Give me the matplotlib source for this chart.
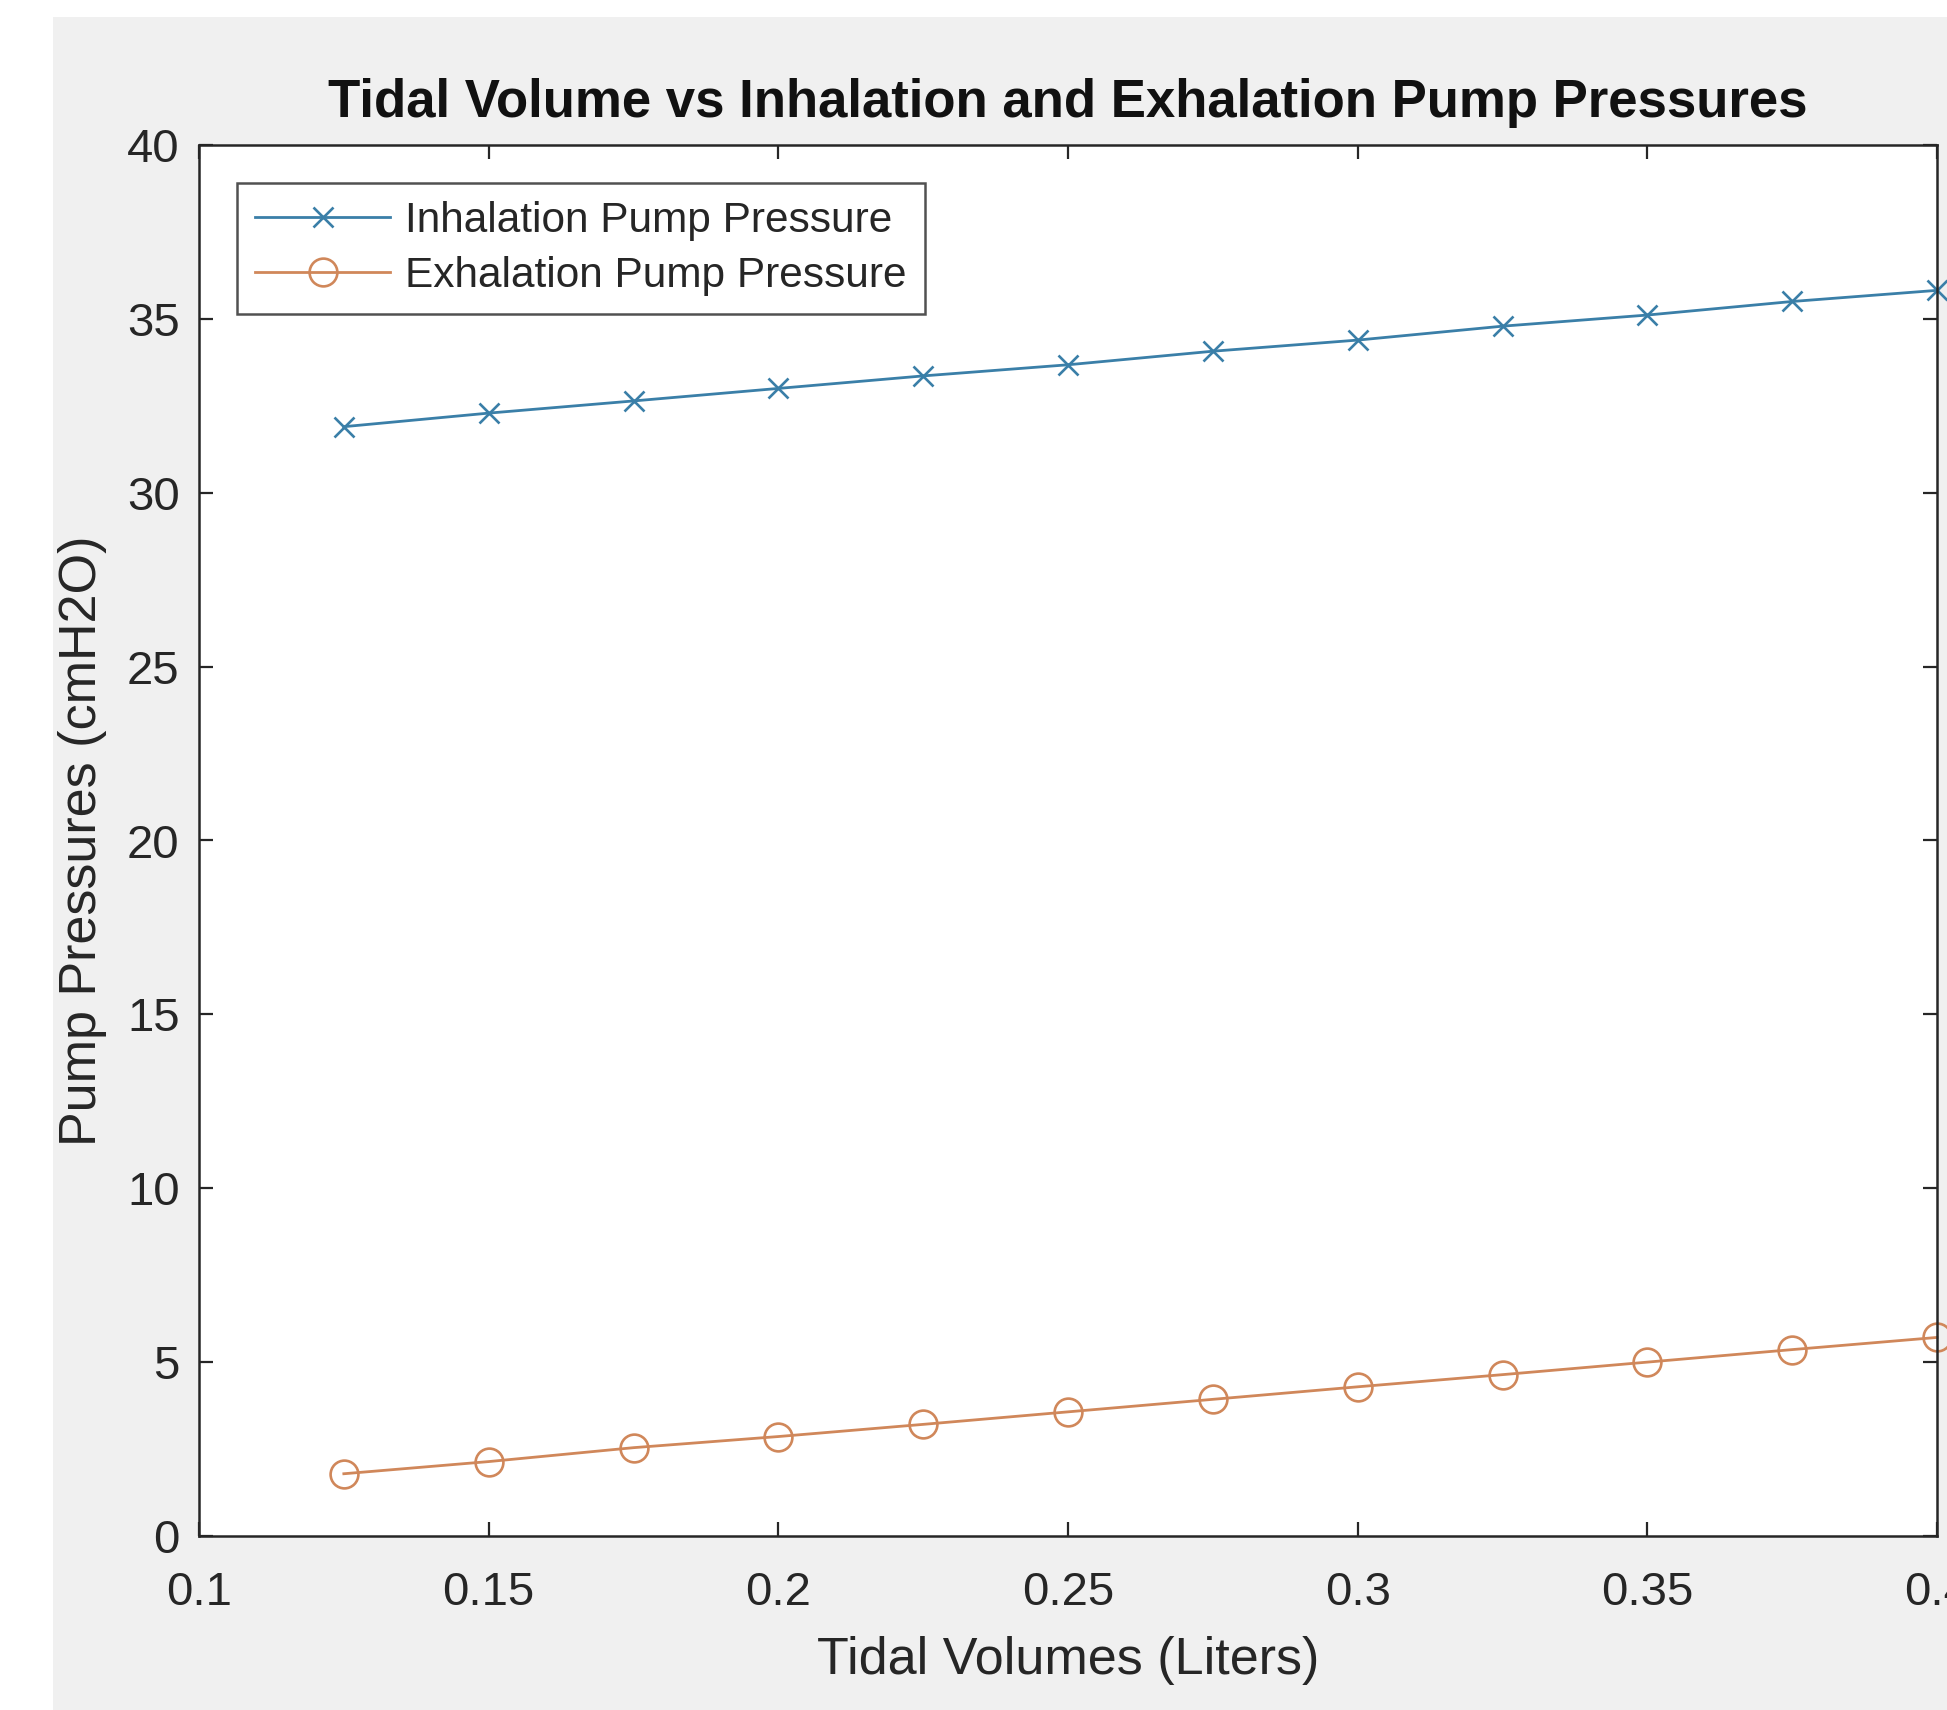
import matplotlib
matplotlib.use("Agg")
import matplotlib.pyplot as plt
from matplotlib.patches import Rectangle

plt.rcParams['font.family'] = ['Liberation Sans', 'DejaVu Sans']

tidal_volumes = [0.125, 0.15, 0.175, 0.2, 0.225, 0.25, 0.275, 0.3, 0.325, 0.35, 0.375, 0.4]
inhalation = [31.9, 32.29, 32.64, 33.0, 33.36, 33.68, 34.07, 34.39, 34.79, 35.11, 35.5, 35.82]
exhalation = [1.79, 2.14, 2.54, 2.86, 3.21, 3.57, 3.93, 4.29, 4.64, 5.0, 5.36, 5.71]
x_ticks = [0.1, 0.15, 0.2, 0.25, 0.3, 0.35, 0.4]
x_tick_labels = ['0.1', '0.15', '0.2', '0.25', '0.3', '0.35', '0.4']
y_ticks = [0, 5, 10, 15, 20, 25, 30, 35, 40]

W, H = 1947, 1710
fig = plt.figure(figsize=(W / 100, H / 100), dpi=100, facecolor='white')
# MATLAB grey figure background (screenshot crop leaves white strip left/top)
bg = Rectangle((53 / W, 0), 1, 1 - 17 / H, transform=fig.transFigure,
               facecolor='#f0f0f0', edgecolor='none', zorder=-10)
fig.patches.append(bg)

ax = fig.add_axes([199 / W, 174 / H, (1937 - 199) / W, (1565 - 174) / H])
ax.set_zorder(5)
ax.set_facecolor('white')

c_in = '#3a7fa8'
c_ex = '#d0875a'
ax.plot(tidal_volumes, inhalation, color=c_in, marker='x', markersize=14.5, markeredgewidth=1.9,
        linewidth=2.0, label='Inhalation Pump Pressure', clip_on=False)
ax.plot(tidal_volumes, exhalation, color=c_ex, marker='o', markersize=20, markerfacecolor='none',
        markeredgewidth=1.9, linewidth=2.0, label='Exhalation Pump Pressure', clip_on=False)

ax.set_xlim(0.1, 0.4)
ax.set_ylim(0, 40)
ax.set_xticks(x_ticks)
ax.set_xticklabels(x_tick_labels)
ax.set_yticks(y_ticks)

dark = '#262626'
for s in ax.spines.values():
    s.set_color(dark)
    s.set_linewidth(1.8)
ax.tick_params(direction='in', length=10, width=1.6, colors=dark, labelsize=34,
               top=True, right=True)
ax.tick_params(axis='x', pad=25)
ax.tick_params(axis='y', pad=14)

ax.set_xlabel('Tidal Volumes (Liters)', fontsize=37.5, color=dark, labelpad=15)
ax.set_ylabel('Pump Pressures (cmH2O)', fontsize=37.5, color=dark, labelpad=14)
ax.set_title('Tidal Volume vs Inhalation and Exhalation Pump Pressures', fontsize=38,
             fontweight='bold', color='#111111', pad=20)

leg = ax.legend(loc='upper left', fontsize=30.5, frameon=True, fancybox=False,
                handlelength=3.2, handletextpad=0.35, borderpad=0.42, labelspacing=0.36,
                borderaxespad=0.9)
leg.get_frame().set_edgecolor(dark)
leg.get_frame().set_linewidth(1.8)
for t in leg.get_texts():
    t.set_color(dark)

fig.savefig('out.png', dpi=100, facecolor=fig.get_facecolor())
